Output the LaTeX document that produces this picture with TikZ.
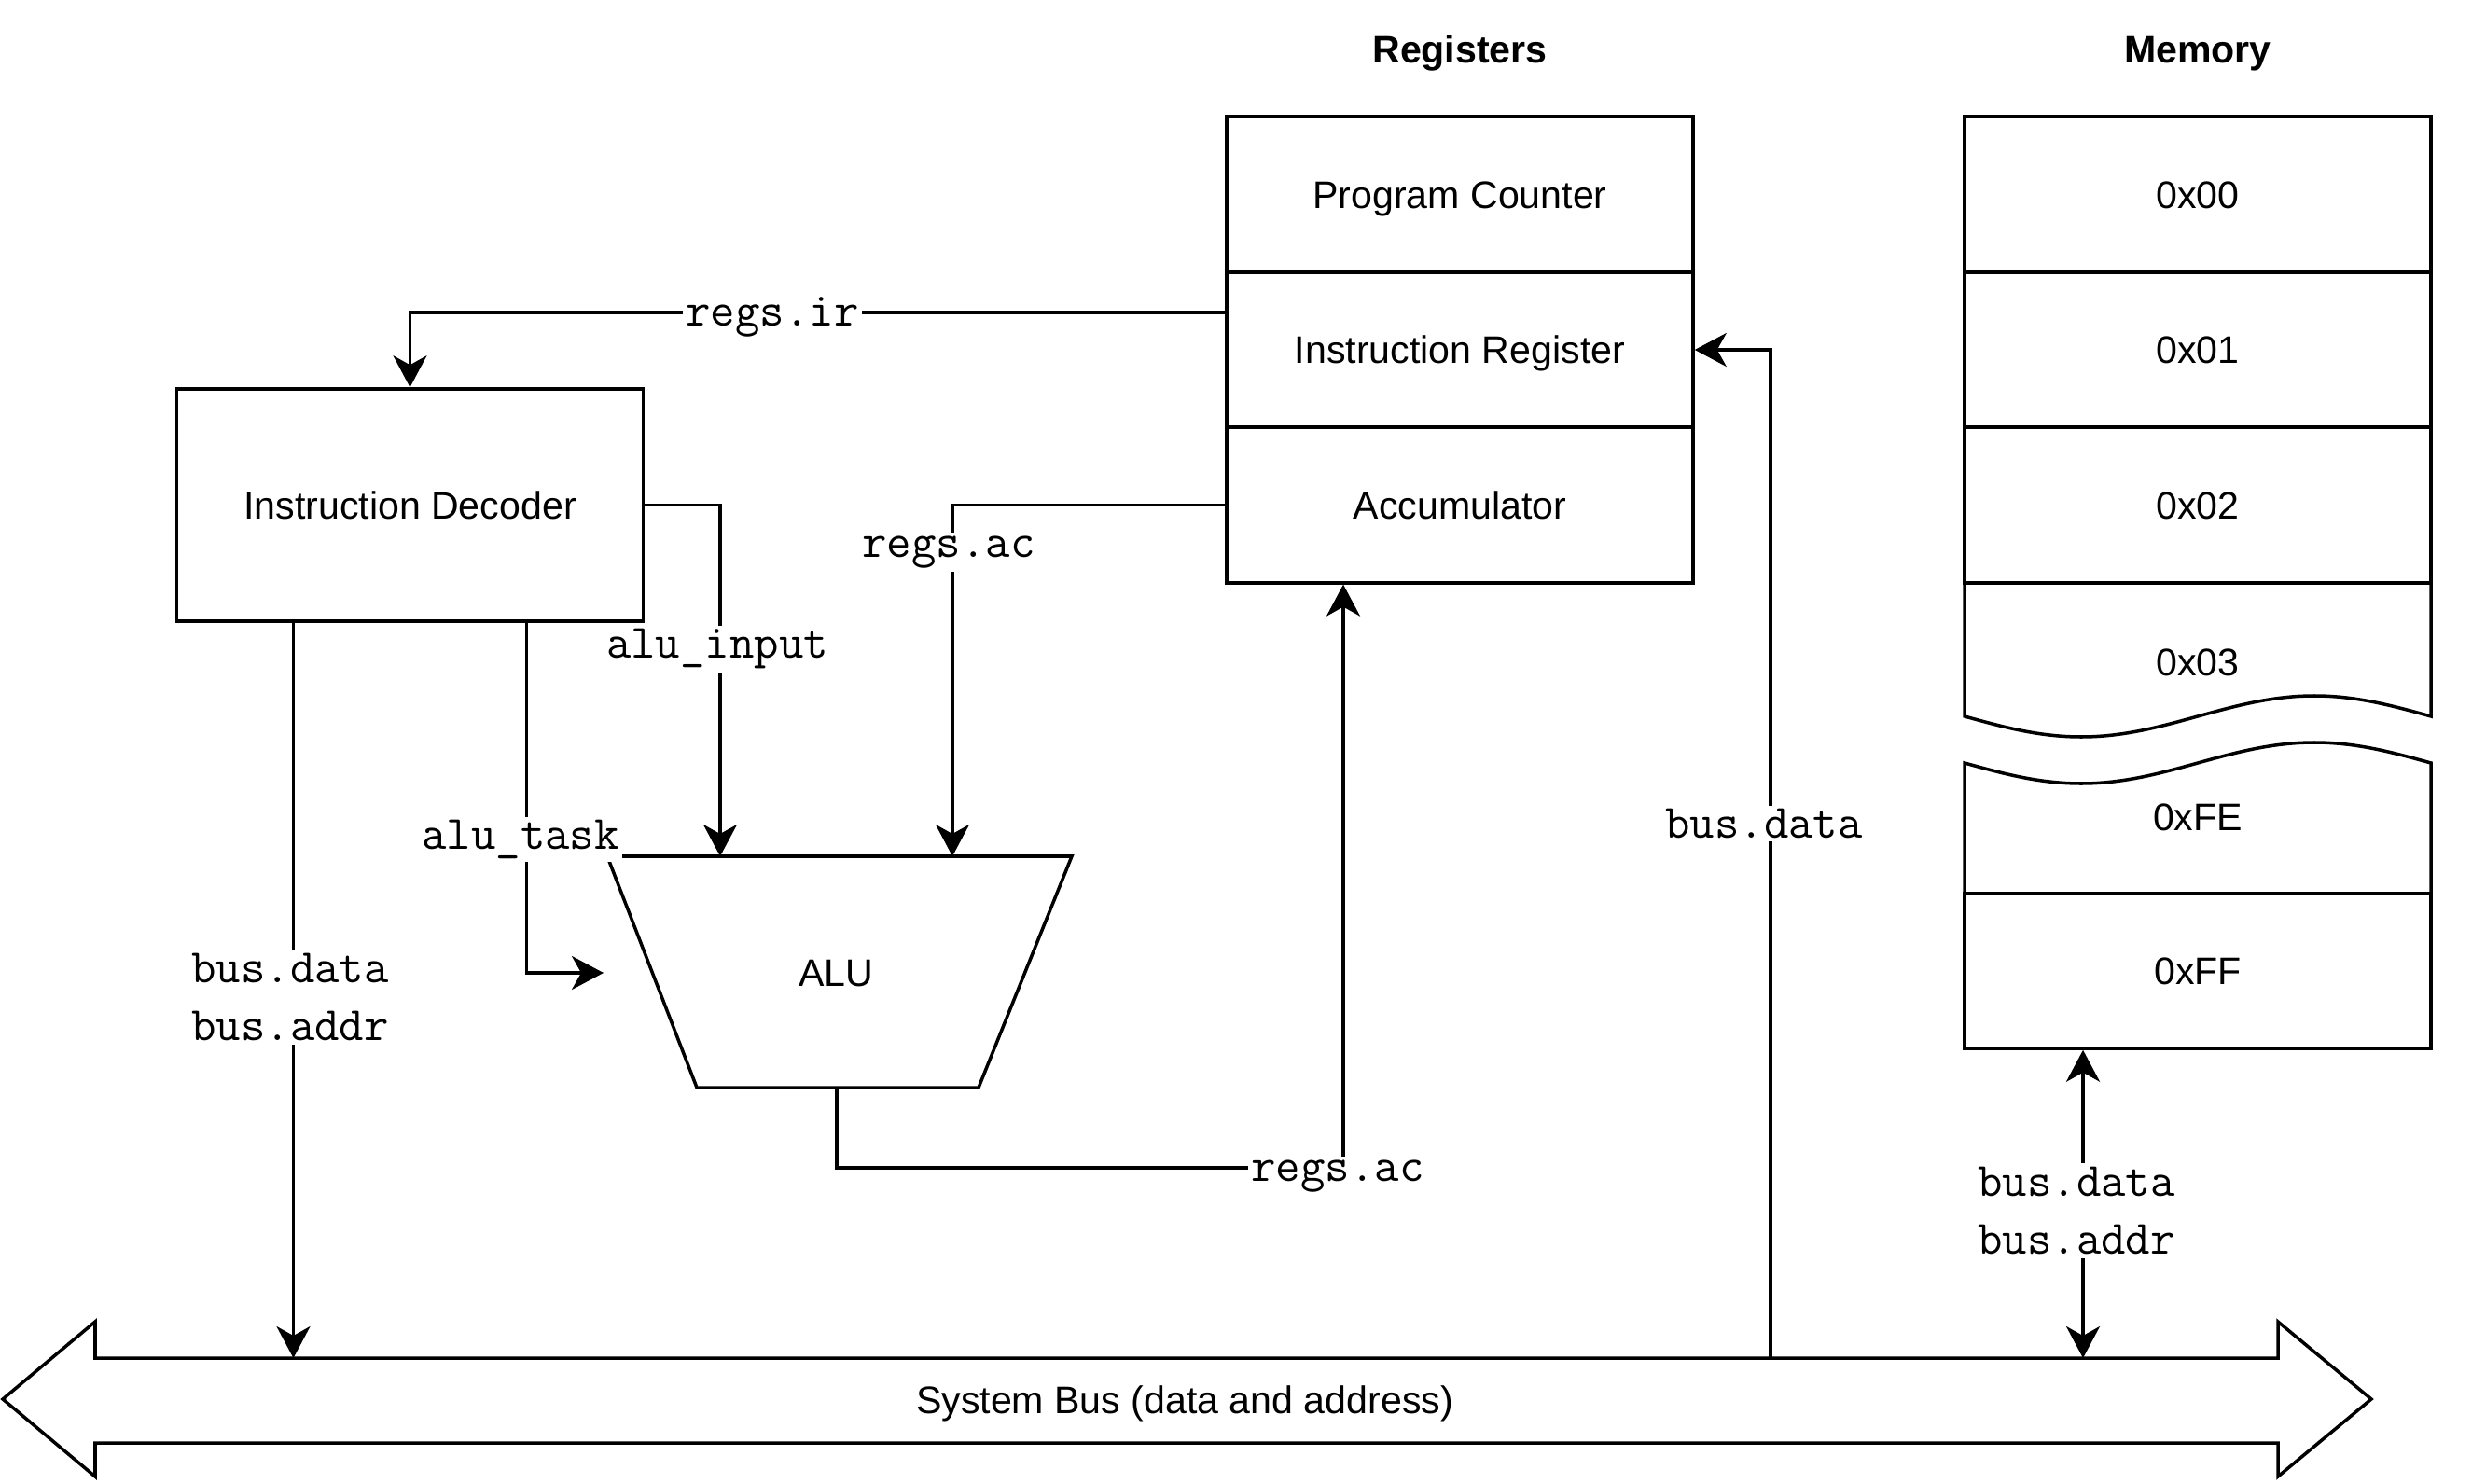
\documentclass[tikz,border=0pt]{standalone}
\usepackage{fontspec}
\setmainfont{Liberation Sans}
\usetikzlibrary{arrows.meta}

\tikzset{
  txt/.style={text height=8.4pt, text depth=0pt},
  cell/.style={draw, txt, minimum width=5cm, minimum height=1.667cm, inner sep=0pt},
  lbl/.style={fill=white, inner sep=1pt, font=\ttfamily\fontsize{14.6}{17.9}\selectfont},
  title/.style={txt, font=\bfseries\fontsize{11.7}{14}\selectfont},
}

\begin{document}
\begin{tikzpicture}[line width=1pt, >={Stealth[length=3.4mm,width=3.6mm,inset=1mm]},
  font=\fontsize{11.7}{14}\selectfont]

	\useasboundingbox (0,0) rectangle (26.5,-15.91);

	% registers
	\node[title] (regtitle) at (15.65,-0.53) {Registers};
	\node[cell] (pc) at (15.65,-2.085) {Program Counter};
	\node[cell] (ir) at (15.65,-3.75) {Instruction Register};
	\node[cell] (ac) at (15.65,-5.415) {Accumulator};

	% memory
	\node[title] (memtitle) at (23.56,-0.53) {Memory};
	\node[cell] (m00) at (23.56,-2.085) {0x00};
	\node[cell] (m01) at (23.56,-3.75) {0x01};
	\node[cell] (m02) at (23.56,-5.415) {0x02};
	\draw (21.06,-6.25) -- (21.06,-7.68) sin (22.31,-7.90) cos (23.56,-7.68)
	  sin (24.81,-7.46) cos (26.06,-7.68) -- (26.06,-6.25);
	\node[txt] (m03) at (23.56,-7.10) {0x03};
	\draw (21.06,-9.58) -- (21.06,-8.18) sin (22.31,-8.40) cos (23.56,-8.18)
	  sin (24.81,-7.96) cos (26.06,-8.18) -- (26.06,-9.58) -- cycle;
	\node[txt] (mfe) at (23.56,-8.76) {0xFE};
	\node[cell, minimum height=1.66cm] (mff) at (23.56,-10.41) {0xFF};

	% decoder
	\node[cell, minimum height=2.49cm] (id) at (4.395,-5.415) {Instruction Decoder};

	% alu
	\draw (6.51,-9.18) -- (11.49,-9.18) -- (10.49,-11.66) -- (7.47,-11.66) -- cycle;
	\node[txt] (alu) at (8.96,-10.43) {ALU};
	\coordinate (aluin) at (7.72,-9.18);
	\coordinate (aluacin) at (10.21,-9.18);
	\coordinate (alutask) at (6.47,-10.43);
	\coordinate (aluout) at (8.97,-11.66);

	% system bus
	\draw (0.03,-15.0) -- (1.02,-14.17) -- (1.02,-14.56) -- (24.42,-14.56)
	  -- (24.42,-14.17) -- (25.42,-15.0) -- (24.42,-15.83) -- (24.42,-15.47)
	  -- (1.02,-15.47) -- (1.02,-15.83) -- cycle;
	\node[txt] (bus) at (12.70,-15.01) {System Bus (data and address)};
	\coordinate (bustop) at (12.70,-14.56);
	\coordinate (busir) at (18.98,-14.56);

	% connectors
	\draw[->] ([yshift=0.4cm]ir.west) -| (id.north);
	\draw[->] (id.east) -| (aluin);
	\draw[->] (ac.west) -| (aluacin);
	\draw[->] ([xshift=1.25cm]id.south) |- (alutask);
	\draw[->] (aluout) -- ++(0,-0.86) -| ([xshift=-1.25cm]ac.south);
	\draw[->] ([xshift=-1.25cm]id.south) -- ([xshift=-1.25cm]id.south |- bustop);
	\draw[->] (busir) |- (ir.east);
	\draw[<->] ([xshift=-1.23cm]mff.south) -- ([xshift=-1.23cm]mff.south |- bustop);

	% labels
	\node[lbl] (lir) at (8.28,-3.40) {regs.ir};
	\node[lbl] (linput) at (7.69,-6.96) {alu\_input};
	\node[lbl] (lacup) at (10.17,-5.92) {regs.ac};
	\node[lbl] (ltask) at (5.58,-9.00) {alu\_task};
	\node[lbl, align=center] (lidbus) at (3.11,-10.69) {bus.data\\bus.addr};
	\node[lbl] (lacdn) at (14.34,-12.61) {regs.ac};
	\node[lbl] (lirbus) at (18.91,-8.83) {bus.data};
	\node[lbl, align=center] (lmem) at (22.26,-12.98) {bus.data\\bus.addr};

\end{tikzpicture}
\end{document}
